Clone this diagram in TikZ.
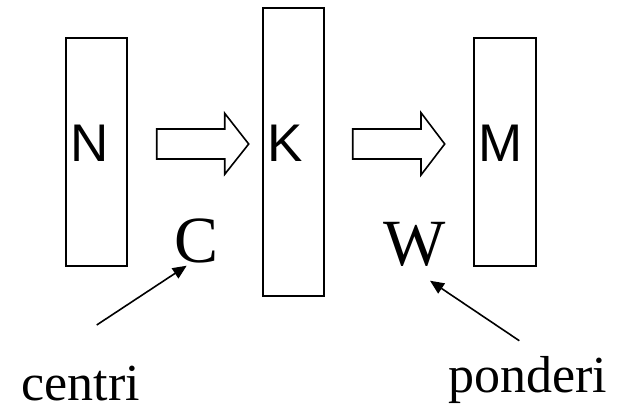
\documentclass[tikz,border=0pt]{standalone}
\usepackage{fontspec}
\setmainfont{Liberation Serif}
\newfontfamily\arialf{Liberation Sans}
\usetikzlibrary{arrows.meta}
\begin{document}
\begin{tikzpicture}[x=1pt,y=-1pt,
  boxnode/.style={draw,line width=1.8pt,inner sep=0pt,outer sep=0pt},
  sanslbl/.style={font=\arialf\fontsize{53}{60}\selectfont,inner sep=0pt,anchor=base},
  serlbl/.style={font=\fontsize{66}{72}\selectfont,inner sep=0pt,anchor=base},
  wordlbl/.style={font=\fontsize{52}{60}\selectfont,inner sep=0pt,anchor=base},
  blockarrow/.style={draw,line width=1.6pt,fill=white,line join=miter},
  pointer/.style={line width=1.6pt,-{Triangle[length=14pt,width=12pt]}}]
\useasboundingbox (0,0) rectangle (627,407);
% boxes
\node[boxnode,minimum width=61.6pt,minimum height=227.7pt] (Nb) at (96.5,151.85) {};
\node[boxnode,minimum width=61.3pt,minimum height=287.7pt] (Kb) at (293.35,151.85) {};
\node[boxnode,minimum width=61.7pt,minimum height=227.4pt] (Mb) at (504.85,152) {};
% letters in boxes
\node[sanslbl] (N) at (89.5,161) {N};
\node[sanslbl] (K) at (285.5,161) {K};
\node[sanslbl] (M) at (500.3,161) {M};
% block arrows
\draw[blockarrow] (156.7,129) -- (224.7,129) -- (224.7,113.3) -- (248.7,144) -- (224.7,174.3) -- (224.7,159) -- (156.7,159) -- cycle;
\draw[blockarrow] (352.7,129) -- (421,129) -- (421,112.7) -- (444.7,144) -- (421,175) -- (421,159) -- (352.7,159) -- cycle;
% serif labels
\node[serlbl] (C) at (196.7,262) {C};
\node[serlbl] (W) at (414.5,265) {W};
\node[wordlbl] (centri) at (80.8,400) {centri};
\node[wordlbl] (ponderi) at (528,392) {ponderi};
% pointers
\coordinate (cs) at (96.7,325);
\coordinate (ct) at (186.7,265.7);
\coordinate (ws) at (519.3,340.7);
\coordinate (wt) at (430,280.7);
\draw[pointer] (cs) -- (ct);
\draw[pointer] (ws) -- (wt);
\end{tikzpicture}
\end{document}
